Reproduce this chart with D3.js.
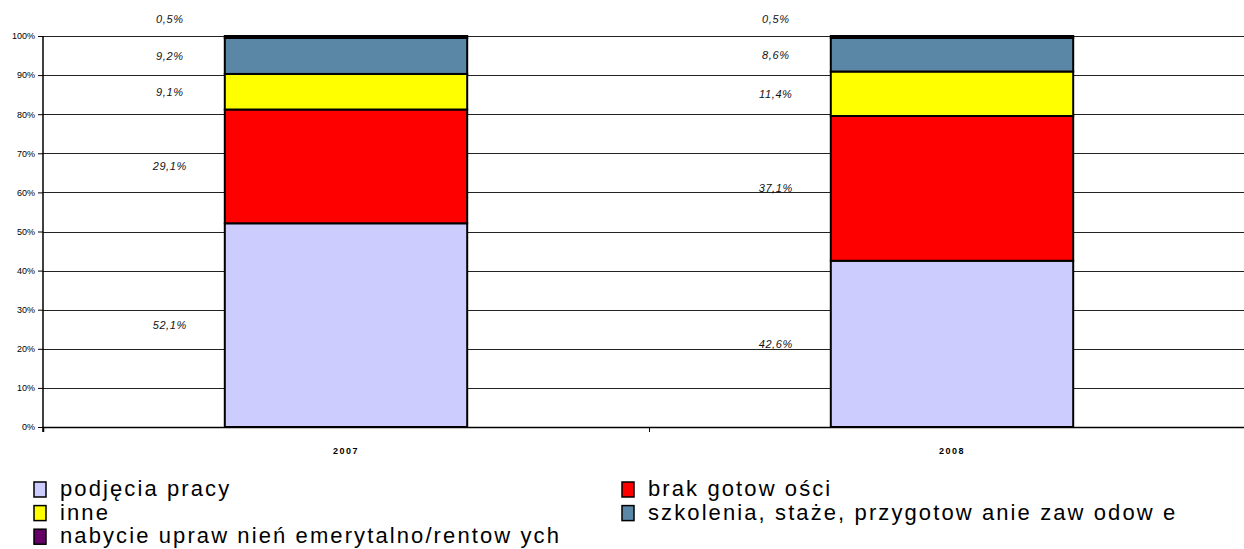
<!DOCTYPE html>
<html>
<head>
<meta charset="utf-8">
<script src="https://cdnjs.cloudflare.com/ajax/libs/d3/7.8.5/d3.min.js"></script>
<style>
  body { margin: 0; background: #fff; }
  svg { display: block; font-family: "Liberation Sans", Arial, sans-serif; }
  .tickLbl { font-size: 9px; fill: #000; }
  .yearLbl { font-size: 9px; font-weight: bold; letter-spacing: 1.5px; }
  .valLbl { font-size: 11px; font-style: italic; letter-spacing: 0.6px; fill: #111; }
  .legend { font-size: 22px; letter-spacing: 2.1px; fill: #000; }
</style>
</head>
<body>
<div class="chart"></div>
<script>
// data
const years = ["2007", "2008"];
const series = ["podjęcia pracy", "brak gotow ości", "inne", "szkolenia, staże, przygotow anie zaw odow e", "nabycie upraw nień emerytalno/rentow ych"];
const colors = ["#ccccff", "#ff0000", "#ffff00", "#5b87a6", "#660066"];
const podjecia = [52.1, 42.6];
const brak = [29.1, 37.1];
const inne = [9.1, 11.4];
const szkolenia = [9.2, 8.6];
const nabycie = [0.5, 0.5];
const yTicks = [0, 0.1, 0.2, 0.3, 0.4, 0.5, 0.6, 0.7, 0.8, 0.9, 1];

const keys = ["podjecia", "brak", "inne", "szkolenia", "nabycie"];
const table = years.map((y, i) => ({
  year: y, podjecia: podjecia[i], brak: brak[i], inne: inne[i], szkolenia: szkolenia[i], nabycie: nabycie[i]
}));

const width = 1244, height = 549;
const plotL = 43, plotR = 1255, plotT = 36, plotB = 427;

const svg = d3.select(".chart").append("svg")
  .attr("width", width)
  .attr("height", height);

const x = d3.scaleBand().domain(years).range([plotL, plotR]);
const xEdge = d3.scaleLinear().domain([0, years.length]).range([plotL, plotR]);
const y = d3.scaleLinear().domain([0, 1]).range([plotB, plotT]);
const barW = x.bandwidth() * 0.4;

// gridlines
svg.append("g")
  .attr("transform", "translate(" + plotL + ",0)")
  .call(d3.axisLeft(y).tickValues(yTicks).tickSize(-(width - plotL)).tickFormat(""))
  .call(g => g.select(".domain").remove())
  .call(g => g.selectAll("line").attr("stroke", "#222").attr("shape-rendering", "crispEdges"));

const stacked = d3.stack().keys(keys).offset(d3.stackOffsetExpand)(table);

const layer = svg.selectAll(".layer")
  .data(stacked)
  .enter().append("g")
  .attr("class", "layer")
  .attr("fill", (d, i) => colors[i]);

layer.selectAll("rect")
  .data(d => d)
  .enter().append("rect")
  .attr("x", d => x(d.data.year) + (x.bandwidth() - barW) / 2)
  .attr("y", d => y(d[1]))
  .attr("width", barW)
  .attr("height", d => y(d[0]) - y(d[1]))
  .attr("stroke", "#000")
  .attr("stroke-width", 2);

// value labels, left of each bar
layer.selectAll("text")
  .data((d, i) => d.map((p, j) => ({ p: p, val: table[j][keys[i]], last: i === keys.length - 1 })))
  .enter().append("text")
  .attr("class", "valLbl")
  .attr("text-anchor", "middle")
  .attr("x", d => x(d.p.data.year) + (x.bandwidth() - barW) / 2 - 55)
  .attr("y", d => d.last ? plotT - 13 : y((d.p[0] + d.p[1]) / 2) + 4)
  .text(d => d3.format(".1f")(d.val).replace(".", ",") + "%");

// y axis
svg.append("g")
  .attr("transform", "translate(" + plotL + ",0)")
  .call(d3.axisLeft(y).tickValues(yTicks).tickSize(5).tickPadding(3).tickFormat(d3.format(".0%")))
  .call(g => g.select(".domain").attr("d", "M0," + plotT + "V" + (plotB + 5)).attr("stroke", "#000").attr("stroke-width", 1.5))
  .call(g => g.selectAll("line").attr("stroke", "#000"))
  .call(g => g.selectAll("text").attr("class", "tickLbl").attr("fill", "#000"));

// x axis
svg.append("g")
  .attr("transform", "translate(0," + plotB + ")")
  .call(d3.axisBottom(xEdge).tickValues([0, 1, 2]).tickSize(5).tickFormat(""))
  .call(g => g.select(".domain").attr("stroke", "#000").attr("stroke-width", 1.5))
  .call(g => g.selectAll("line").attr("stroke", "#000"));

svg.append("g")
  .attr("transform", "translate(0," + plotB + ")")
  .call(d3.axisBottom(x).tickSize(0).tickPadding(21))
  .call(g => g.select(".domain").remove())
  .call(g => g.selectAll("text").attr("class", "yearLbl").attr("fill", "#000"));

// legend
const legCols = [34, 622];
const legRow0 = 496, legStep = 23.6;
const leg = svg.selectAll(".leg")
  .data(series)
  .enter().append("g")
  .attr("class", "leg")
  .attr("transform", (d, i) => "translate(" + legCols[i % 2] + "," + (legRow0 + Math.floor(i / 2) * legStep) + ")");

leg.append("rect")
  .attr("x", 0)
  .attr("y", -14)
  .attr("width", 12)
  .attr("height", 15)
  .attr("fill", (d, i) => colors[i])
  .attr("stroke", "#000")
  .attr("stroke-width", 1.5);

leg.append("text")
  .attr("class", "legend")
  .attr("x", 26)
  .attr("y", 0)
  .text(d => d);
</script>
</body>
</html>
